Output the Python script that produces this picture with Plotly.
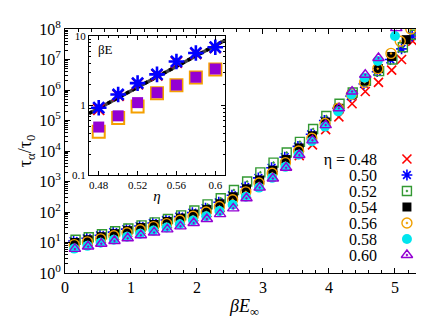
import plotly.graph_objects as go

# ---------------- main panel data (log10 tau_alpha/tau_0 vs beta*E_inf) -------------
eta_labels = ["η = 0.48", "0.50", "0.52", "0.54", "0.56", "0.58", "0.60"]

x_048 = [0.15,0.35,0.55,0.75,0.95,1.15,1.35,1.55,1.75,1.95,2.15,2.35,2.55,2.75,2.95,3.15,3.35,3.55,3.75,3.95,4.15,4.35,4.55,4.75,4.95,5.10,5.27]
ly_048 = [0.95,1.04,1.13,1.23,1.33,1.42,1.52,1.62,1.72,1.84,1.98,2.15,2.35,2.60,2.88,3.20,3.50,3.85,4.20,4.70,5.12,5.55,5.95,6.25,6.65,7.00,7.60]

x_050 = [0.13,0.33,0.53,0.73,0.93,1.13,1.33,1.53,1.73,1.93,2.13,2.33,2.53,2.73,2.93,3.13,3.33,3.53,3.73,3.93,4.13,4.33,4.53,4.73,4.93,5.10,5.26]
ly_050 = [1.05,1.14,1.24,1.34,1.44,1.54,1.64,1.74,1.85,1.98,2.13,2.32,2.55,2.82,3.12,3.45,3.80,4.15,4.55,5.00,5.40,5.80,6.20,6.60,7.00,7.35,7.77]

x_052 = [0.16,0.36,0.56,0.76,0.96,1.16,1.36,1.56,1.76,1.96,2.16,2.36,2.56,2.76,2.96,3.16,3.36,3.56,3.76,3.96,4.16,4.36,4.56,4.76,4.96,5.12,5.30]
ly_052 = [1.09,1.17,1.27,1.37,1.46,1.56,1.66,1.77,1.89,2.05,2.25,2.45,2.72,3.00,3.30,3.62,3.95,4.30,4.72,5.15,5.55,5.92,6.30,6.62,7.00,7.40,7.81]

x_054 = [0.15,0.35,0.55,0.75,0.95,1.15,1.35,1.55,1.75,1.95,2.15,2.35,2.55,2.75,2.95,3.15,3.35,3.55,3.75,3.95,4.15,4.35,4.55,4.75,4.95,5.17]
ly_054 = [1.00,1.09,1.19,1.29,1.39,1.49,1.59,1.69,1.80,1.93,2.08,2.27,2.50,2.76,3.05,3.37,3.72,4.10,4.50,4.95,5.40,5.85,6.30,6.70,7.10,7.65]

x_056 = [0.14,0.34,0.54,0.74,0.94,1.14,1.34,1.54,1.74,1.94,2.14,2.34,2.54,2.74,2.94,3.14,3.34,3.54,3.74,3.94,4.14,4.34,4.54,4.74,4.94,5.08,5.24]
ly_056 = [0.93,1.02,1.12,1.22,1.32,1.42,1.52,1.62,1.73,1.86,2.00,2.18,2.40,2.66,2.95,3.27,3.62,4.00,4.42,4.90,5.40,5.85,6.25,6.70,7.20,7.60,8.00]

x_058 = [0.14,0.34,0.54,0.74,0.94,1.14,1.34,1.54,1.74,1.94,2.14,2.34,2.54,2.74,2.94,3.14,3.34,3.54,3.74,3.94,4.14,4.34,4.54,4.74,5.00]
ly_058 = [0.80,0.89,0.99,1.09,1.19,1.29,1.39,1.49,1.60,1.72,1.86,2.03,2.24,2.50,2.80,3.12,3.48,3.88,4.32,4.80,5.30,5.85,6.40,6.95,7.77]

x_060 = [0.15,0.35,0.55,0.75,0.95,1.15,1.35,1.55,1.75,1.95,2.15,2.35,2.55,2.75,2.95,3.15,3.35,3.55,3.75,3.95,4.15,4.35,4.55,4.75,5.02]
ly_060 = [0.79,0.87,0.96,1.05,1.14,1.24,1.33,1.43,1.53,1.64,1.77,1.93,2.12,2.45,2.80,3.10,3.45,3.87,4.35,4.85,5.40,5.95,6.50,7.05,8.03]

# ---------------- inset data (beta*E vs eta) ----------------
eta_in = [0.48, 0.50, 0.52, 0.54, 0.56, 0.58, 0.60]
in_red = [0.88, 1.40, 2.05, 2.75, 4.20, 5.60, 6.80]
in_blue = [0.93, 1.44, 2.10, 2.80, 4.30, 5.70, 6.90]
in_orange = [0.42, 0.66, 0.97, 1.50, 1.95, 2.52, 3.30]
in_purple = [0.49, 0.71, 1.10, 1.53, 1.97, 2.55, 3.35]
fit_eta = [0.47, 0.61]
fit_val = [0.77, 8.7]

main_x_ticks = [0, 1, 2, 3, 4, 5]
main_y_ticks = [1, 10, 100, 1e3, 1e4, 1e5, 1e6, 1e7, 1e8]
main_y_labels = ["10<sup>%d</sup>" % k for k in range(9)]
in_x_ticks = [0.48, 0.52, 0.56, 0.60]
in_x_labels = ["0.48", "0.52", "0.56", "0.6"]
in_y_ticks = [0.1, 1, 10]
in_y_labels = ["0.1", "1", "10"]

FONT = "Liberation Serif"

styles = [
    dict(symbol="x-thin-open", color="#ff0000", size=9, line=dict(width=1.6, color="#ff0000")),
    dict(symbol="asterisk-open", color="#0000ff", size=9, line=dict(width=1.6, color="#0000ff")),
    dict(symbol="square-open-dot", color="#339933", size=9, line=dict(width=1.4, color="#339933")),
    dict(symbol="square", color="#000000", size=9, line=dict(width=0)),
    dict(symbol="circle-open-dot", color="#f0a000", size=10, line=dict(width=1.4, color="#f0a000")),
    dict(symbol="circle", color="#00e5ee", size=10, line=dict(width=0)),
    dict(symbol="triangle-up-open-dot", color="#9400d3", size=10, line=dict(width=1.4, color="#9400d3")),
]
xs_all = [x_048, x_050, x_052, x_054, x_056, x_058, x_060]
ly_all = [ly_048, ly_050, ly_052, ly_054, ly_056, ly_058, ly_060]

fig = go.Figure()
for xs, lys, lab, mk in zip(xs_all, ly_all, eta_labels, styles):
    fig.add_trace(go.Scatter(x=xs, y=[10 ** v for v in lys], mode="markers", name=lab,
                             marker=mk, xaxis="x", yaxis="y", showlegend=False))

# key: one marker per series on a small categorical axis (labels = tick labels)
for lab, mk in zip(eta_labels, styles):
    fig.add_trace(go.Scatter(x=[0], y=[lab], mode="markers", marker=mk, showlegend=False,
                             hoverinfo="skip", xaxis="x3", yaxis="y3"))

# inset traces
fig.add_trace(go.Scatter(x=fit_eta, y=fit_val, mode="lines", showlegend=False,
                         line=dict(color="#444444", width=3.5), xaxis="x2", yaxis="y2"))
fig.add_trace(go.Scatter(x=fit_eta, y=fit_val, mode="lines", showlegend=False,
                         line=dict(color="black", width=3.5, dash="dot"), xaxis="x2", yaxis="y2"))
fig.add_trace(go.Scatter(x=eta_in, y=in_red, mode="markers", showlegend=False,
                         marker=dict(symbol="x-thin-open", size=11, color="#ff0000", line=dict(width=2, color="#ff0000")),
                         xaxis="x2", yaxis="y2"))
fig.add_trace(go.Scatter(x=eta_in, y=in_blue, mode="markers", showlegend=False,
                         marker=dict(symbol="asterisk-open", size=13, color="#0000ff", line=dict(width=2.6, color="#0000ff")),
                         xaxis="x2", yaxis="y2"))
fig.add_trace(go.Scatter(x=eta_in, y=in_orange, mode="markers", showlegend=False,
                         marker=dict(symbol="square-open", size=12, color="#f5a000", line=dict(width=2, color="#f5a000")),
                         xaxis="x2", yaxis="y2"))
fig.add_trace(go.Scatter(x=eta_in, y=in_purple, mode="markers", showlegend=False,
                         marker=dict(symbol="square", size=11, color="#9400d3", line=dict(width=0)),
                         xaxis="x2", yaxis="y2"))

axis_common = dict(showline=True, linecolor="black", linewidth=1, mirror="allticks",
                   ticks="inside", tickcolor="black", showgrid=False, zeroline=False)

fig.update_layout(
    width=424, height=318,
    margin=dict(l=57, r=8, t=21, b=53),
    paper_bgcolor="white", plot_bgcolor="rgba(0,0,0,0)",
    font=dict(family=FONT, color="black", size=16),
    showlegend=False,
    xaxis=dict(**axis_common, range=[0, 5.44], tickvals=main_x_ticks, ticklen=5,
               tickfont=dict(size=16, family=FONT),
               minor=dict(ticks="inside", ticklen=3, dtick=0.2, tickcolor="black"),
               title=dict(text="<i>βE</i><sub>∞</sub>", font=dict(size=18, family=FONT), standoff=4),
               domain=[0, 1]),
    yaxis=dict(**axis_common, type="log", range=[0, 8], tickvals=main_y_ticks, ticktext=main_y_labels,
               ticklen=5, tickfont=dict(size=16, family=FONT),
               minor=dict(ticks="inside", ticklen=3, dtick="D1", tickcolor="black"),
               title=dict(text="τ<sub>α</sub>/τ<sub>0</sub>", font=dict(size=18, family=FONT), standoff=2),
               domain=[0, 1]),
    xaxis2=dict(**axis_common, anchor="y2", range=[0.47, 0.61], tickvals=in_x_ticks, ticktext=in_x_labels,
                ticklen=4, tickfont=dict(size=11, family=FONT),
                minor=dict(ticks="inside", ticklen=2, dtick=0.01, tickcolor="black"),
                title=dict(text="<i>η</i>", font=dict(size=15, family=FONT), standoff=0),
                domain=[0.0669, 0.4457]),
    yaxis2=dict(**axis_common, anchor="x2", type="log", range=[-1, 1], tickvals=in_y_ticks, ticktext=in_y_labels,
                ticklen=4, tickfont=dict(size=11, family=FONT),
                minor=dict(ticks="inside", ticklen=2, dtick="D1", tickcolor="black"),
                domain=[0.4016, 0.9713]),
    xaxis3=dict(anchor="y3", domain=[0.872, 0.983], range=[-0.725, 0.275], visible=False,
                showgrid=False, zeroline=False, fixedrange=True),
    yaxis3=dict(anchor="x3", domain=[0.041, 0.5], type="category", categoryorder="array",
                categoryarray=eta_labels, range=[6.5, -0.5], tickmode="array",
                tickvals=eta_labels, ticktext=eta_labels, showgrid=False, zeroline=False,
                showline=False, ticks="", tickfont=dict(size=16, family=FONT), fixedrange=True),
    annotations=[dict(text="βE", xref="x2 domain", yref="y2 domain", x=0.05, y=0.97,
                      xanchor="left", yanchor="top", showarrow=False, font=dict(size=13, family=FONT))],
)

fig.write_html("out.html")
